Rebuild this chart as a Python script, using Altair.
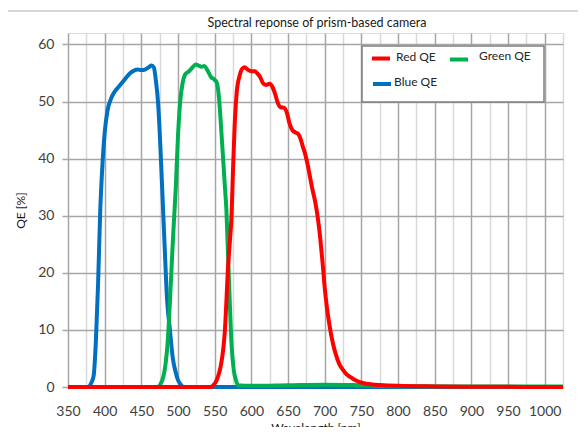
import altair as alt
import pandas as pd

# ---- data ----
blue_wl = [350, 378, 382, 385, 388, 391, 394, 397, 400, 404, 408, 414, 420, 425, 430, 435, 440, 445,
           450, 455, 460, 464, 467, 470, 473, 476, 479, 482, 485, 489, 493, 497, 500, 504, 508, 1025]
blue_qe = [0, 0, 0.8, 2, 8, 18, 31, 39, 44.5, 48.5, 50.3, 51.8, 52.7, 53.5, 54.3, 55, 55.4, 55.6,
           55.5, 55.6, 56, 56.3, 56, 53.5, 49.5, 42, 33, 24, 15.5, 10, 5, 2.5, 1.2, 0.4, 0, 0]

green_wl = [350, 472, 476, 480, 483, 486, 489, 492, 494, 497, 500, 503, 506, 510, 515, 520, 524, 528,
            532, 536, 540, 545, 550, 553, 556, 558, 561, 564, 566, 568, 570, 573, 576, 579, 582,
            600, 650, 700, 750, 800, 900, 1025]
green_qe = [0, 0, 0.5, 1.8, 4, 8, 15, 23, 28, 35, 44, 50, 53, 54.8, 55.3, 56, 56.5, 56.3,
            56.1, 56.2, 55.5, 54.3, 53.8, 53.3, 50.5, 47, 41, 35, 31, 24, 17, 7.5, 3, 1.2, 0.3,
            0.2, 0.3, 0.4, 0.3, 0.15, 0.1, 0.1]

red_wl = [350, 545, 548, 552, 555, 558, 560, 562, 564, 566, 568, 571, 573, 575, 577, 580, 584, 588,
          591, 595, 600, 605, 609, 612, 616, 620, 625, 629, 632, 636, 640, 645, 649, 652, 656, 660,
          664, 667, 670, 673, 677, 680, 683, 687, 691, 694, 697, 700, 703, 707, 711, 715, 720, 725,
          730, 738, 745, 752, 765, 775, 800, 850, 900, 1025]
red_qe = [0, 0, 0.3, 1, 2, 3.5, 5, 7, 10, 15, 20.5, 26, 30, 38, 45, 51.5, 54.5, 55.8,
          56, 55.6, 55.3, 55.3, 54.8, 54.3, 53.2, 52.9, 53.1, 52.5, 51.5, 49.8, 49, 48.9, 47.8, 46.2, 45, 44.6,
          44.3, 43.5, 42.2, 41, 38.8, 36.8, 34.8, 32.5, 29.3, 26, 22, 17.5, 14, 10.5, 7.8, 5.8, 4, 3,
          2.2, 1.5, 1, 0.7, 0.45, 0.35, 0.2, 0.1, 0.05, 0]

series_names = ["Red QE", "Green QE", "Blue QE"]
series_colors = ["#FF0000", "#00B050", "#0070C0"]
x_ticks = list(range(350, 1026, 25))
y_ticks = [0, 10, 20, 30, 40, 50, 60]
chart_title = "Spectral reponse of prism-based camera"

FONT = "Lato"
LABEL_COLOR = "#404040"
TITLE_COLOR = "#1a1a1a"

x_enc = alt.X(
    "wl:Q",
    scale=alt.Scale(domain=[350, 1025], nice=False, zero=False),
    axis=alt.Axis(
        values=x_ticks,
        labelExpr="datum.value % 50 === 0 ? format(datum.value, 'd') : ''",
        grid=True,
        gridColor={"condition": {"test": "datum.value % 50 === 0", "value": "#A6A6A6"}, "value": "#D9D9D9"},
        gridWidth=1.5,
        ticks=False,
        domain=False,
        labelPadding=17,
        labelFontSize=14,
        labelColor=LABEL_COLOR,
        labelFont=FONT,
        titleFont=FONT,
        titleFontSize=12,
        titleFontWeight="normal",
        titleColor=TITLE_COLOR,
        titlePadding=4,
        labelFlush=False,
    ),
    title="Wavelength [nm]",
)
y_enc = alt.Y(
    "qe:Q",
    scale=alt.Scale(domain=[0, 62], nice=False),
    axis=alt.Axis(
        values=y_ticks,
        grid=True,
        gridColor="#A6A6A6",
        gridWidth=1.5,
        tickColor="#A6A6A6",
        tickSize=6,
        tickWidth=1.5,
        domain=False,
        labelPadding=8,
        labelFontSize=14,
        labelColor=LABEL_COLOR,
        labelFont=FONT,
        titleFont=FONT,
        titleFontSize=12,
        titleFontWeight="normal",
        titleColor=TITLE_COLOR,
        titlePadding=10,
    ),
    title="QE [%]",
)


def series_layer(wl, qe, color):
    df = pd.DataFrame({"wl": wl, "qe": qe})
    return alt.Chart(df).mark_line(color=color, strokeWidth=4, interpolate="monotone").encode(x=x_enc, y=y_enc)


one = pd.DataFrame({"k": [0]})

top_line = alt.Chart(one).mark_rule(color="#C8C8C8", strokeWidth=1.5).encode(
    x=alt.value(-63), x2=alt.value(518), y=alt.value(-22))

title_text = alt.Chart(one).mark_text(align="center", baseline="alphabetic", fontSize=12.5, font=FONT,
                                      color=TITLE_COLOR).encode(
    x=alt.value(249), y=alt.value(-6), text=alt.value(chart_title))

legend_box = alt.Chart(one).mark_rect(fill="white", stroke="#7F7F7F", strokeWidth=1.5).encode(
    x=alt.value(294), x2=alt.value(476), y=alt.value(13), y2=alt.value(69))


def leg_line(x1, x2, yy, color):
    return alt.Chart(one).mark_rule(color=color, strokeWidth=4).encode(
        x=alt.value(x1), x2=alt.value(x2), y=alt.value(yy))


def leg_text(xx, yy, label):
    return alt.Chart(one).mark_text(align="left", baseline="middle", fontSize=12, font=FONT,
                                    color="#262626").encode(
        x=alt.value(xx), y=alt.value(yy), text=alt.value(label))


chart = alt.layer(
    top_line,
    title_text,
    series_layer(blue_wl, blue_qe, series_colors[2]),
    series_layer(green_wl, green_qe, series_colors[1]),
    series_layer(red_wl, red_qe, series_colors[0]),
    legend_box,
    leg_line(304, 322, 25.5, series_colors[0]),
    leg_text(328, 24, series_names[0]),
    leg_line(382, 400, 26.5, series_colors[1]),
    leg_text(411, 23, series_names[1]),
    leg_line(305, 323, 51, series_colors[2]),
    leg_text(326, 49, series_names[2]),
).properties(
    width=495,
    height=354,
    padding={"left": 60, "top": 25, "right": 15, "bottom": 40},
    autosize=alt.AutoSizeParams(type="none"),
).configure_view(stroke=None).configure(background="white")

chart.save("out.html", embed_options={"renderer": "svg", "actions": False})
